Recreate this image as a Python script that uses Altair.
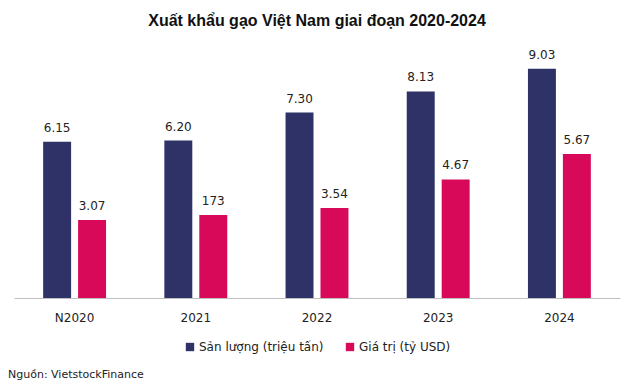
import altair as alt
import pandas as pd

years = ["N2020", "2021", "2022", "2023", "2024"]
series = ["Sản lượng (triệu tấn)", "Giá trị (tỷ USD)"]
san_luong = [6.15, 6.20, 7.30, 8.13, 9.03]
san_luong_labels = ["6.15", "6.20", "7.30", "8.13", "9.03"]
gia_tri = [3.07, 3.27, 3.54, 4.67, 5.67]
gia_tri_labels = ["3.07", "173", "3.54", "4.67", "5.67"]
colors = ["#2E3267", "#D90959"]
title_text = "Xuất khẩu gạo Việt Nam giai đoạn 2020-2024"
source_text = "Nguồn: VietstockFinance"

rows = []
for i, y in enumerate(years):
    rows.append({"year": y, "series": series[0], "value": san_luong[i], "label": san_luong_labels[i]})
    rows.append({"year": y, "series": series[1], "value": gia_tri[i], "label": gia_tri_labels[i]})
df = pd.DataFrame(rows)

FONT = "DejaVu Sans"

base = alt.Chart(df).encode(
    x=alt.X(
        "year:N",
        sort=years,
        scale=alt.Scale(paddingInner=0, paddingOuter=0),
        axis=alt.Axis(
            title=None, labelAngle=0, ticks=False, grid=False,
            domainColor="#BFBFBF", domainWidth=1,
            labelFont=FONT, labelFontSize=12, labelColor="#222222",
            labelPadding=14,
        ),
    ),
    xOffset=alt.XOffset(
        "series:N", sort=series,
        scale=alt.Scale(paddingInner=0.2, paddingOuter=0.834),
    ),
    y=alt.Y("value:Q", scale=alt.Scale(domain=[0, 10], nice=False), axis=None),
)

bars = base.mark_bar().encode(
    color=alt.Color(
        "series:N",
        sort=series,
        scale=alt.Scale(domain=series, range=colors),
        legend=alt.Legend(
            title=None, orient="none", direction="horizontal",
            legendX=170, legendY=297,
            symbolType="square", symbolSize=70, symbolStrokeWidth=0,
            labelFont=FONT, labelFontSize=12, labelColor="#222222",
            labelOffset=3, columnPadding=20, padding=0,
        ),
    )
)

labels = base.mark_text(
    baseline="bottom", dy=-7, font=FONT, fontSize=12, color="#222222"
).encode(text="label:N")

source = alt.Chart(pd.DataFrame({"t": [source_text]})).mark_text(
    align="left", baseline="middle", font=FONT, fontSize=11, color="#222222"
).encode(text="t:N", x=alt.value(-6), y=alt.value(331))

chart = alt.layer(bars, labels, source).properties(
    width=606,
    height=254,
    title=alt.TitleParams(
        text=title_text, font="Liberation Sans", fontSize=16,
        fontWeight="bold", color="#111111", anchor="middle", offset=15,
    ),
    autosize=alt.AutoSizeParams(type="none"),
    padding={"left": 6, "top": 36, "right": 4, "bottom": 90},
).configure_view(stroke=None)

chart.save("out.html", embed_options={"renderer": "svg", "actions": False})
